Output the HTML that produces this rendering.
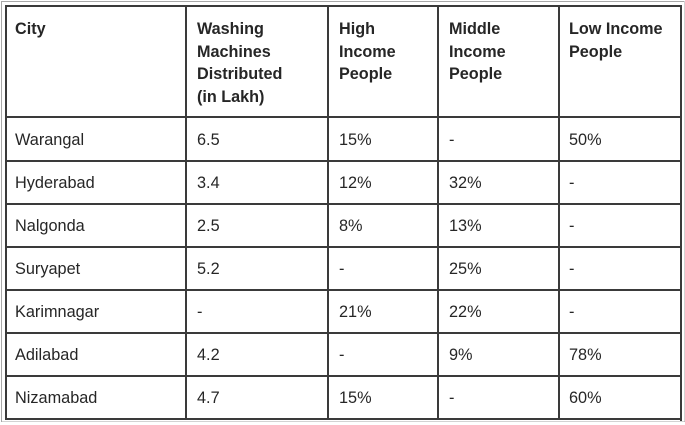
<!DOCTYPE html>
<html>
<head>
<meta charset="utf-8">
<style>
  html, body { margin:0; padding:0; background:#fff; }
  #c { position:relative; width:685px; height:425px; overflow:hidden; background:#fff;
       font-family:"Liberation Sans", Arial, sans-serif; color:#262626; }
  .l { position:absolute; background:#3a3a3a; }
  .lt { position:absolute; background:#a8a8a8; }
  .t { position:absolute; font-size:16.3px; line-height:22.7px; white-space:nowrap; }
  .b { font-weight:bold; font-size:16.2px; }
</style>
</head>
<body>
<div id="c">
  <!-- outer light frame -->
  <div class="lt" style="left:1px;top:1px;width:683px;height:1px;"></div>
  <div class="lt" style="left:1px;top:1px;width:1px;height:421px;"></div>
  <div class="lt" style="left:684px;top:1px;width:1px;height:421px;opacity:.5"></div>
  <div class="lt" style="left:1px;top:421px;width:684px;height:1px;opacity:.5"></div>

  <!-- inner dark frame -->
  <div class="l" style="left:5px;top:5px;width:677px;height:2px;"></div>
  <div class="l" style="left:5px;top:5px;width:2px;height:415px;"></div>
  <div class="l" style="left:680px;top:5px;width:2px;height:416px;"></div>
  <div class="l" style="left:5px;top:418px;width:677px;height:2px;"></div>

  <!-- vertical grid -->
  <div class="l" style="left:185px;top:5px;width:2px;height:415px;"></div>
  <div class="l" style="left:327px;top:5px;width:2px;height:415px;"></div>
  <div class="l" style="left:437px;top:5px;width:2px;height:415px;"></div>
  <div class="l" style="left:558px;top:5px;width:2px;height:415px;"></div>

  <!-- horizontal grid -->
  <div class="l" style="left:5px;top:116px;width:677px;height:2px;"></div>
  <div class="l" style="left:5px;top:160px;width:677px;height:2px;"></div>
  <div class="l" style="left:5px;top:203px;width:677px;height:2px;"></div>
  <div class="l" style="left:5px;top:246px;width:677px;height:2px;"></div>
  <div class="l" style="left:5px;top:289px;width:677px;height:2px;"></div>
  <div class="l" style="left:5px;top:332px;width:677px;height:2px;"></div>
  <div class="l" style="left:5px;top:375px;width:677px;height:2px;"></div>

  <!-- header -->
  <div class="t b" style="left:15px;top:18px;">City</div>
  <div class="t b" style="left:197px;top:18px;">Washing<br>Machines<br>Distributed<br>(in Lakh)</div>
  <div class="t b" style="left:339px;top:18px;">High<br>Income<br>People</div>
  <div class="t b" style="left:449px;top:18px;">Middle<br>Income<br>People</div>
  <div class="t b" style="left:569px;top:18px;">Low Income<br>People</div>

  <!-- rows -->
  <div class="t" style="left:15px;top:129px;">Warangal</div>
  <div class="t" style="left:197px;top:129px;">6.5</div>
  <div class="t" style="left:339px;top:129px;">15%</div>
  <div class="t" style="left:449px;top:129px;">-</div>
  <div class="t" style="left:569px;top:129px;">50%</div>

  <div class="t" style="left:15px;top:172px;">Hyderabad</div>
  <div class="t" style="left:197px;top:172px;">3.4</div>
  <div class="t" style="left:339px;top:172px;">12%</div>
  <div class="t" style="left:449px;top:172px;">32%</div>
  <div class="t" style="left:569px;top:172px;">-</div>

  <div class="t" style="left:15px;top:215px;">Nalgonda</div>
  <div class="t" style="left:197px;top:215px;">2.5</div>
  <div class="t" style="left:339px;top:215px;">8%</div>
  <div class="t" style="left:449px;top:215px;">13%</div>
  <div class="t" style="left:569px;top:215px;">-</div>

  <div class="t" style="left:15px;top:258px;">Suryapet</div>
  <div class="t" style="left:197px;top:258px;">5.2</div>
  <div class="t" style="left:339px;top:258px;">-</div>
  <div class="t" style="left:449px;top:258px;">25%</div>
  <div class="t" style="left:569px;top:258px;">-</div>

  <div class="t" style="left:15px;top:301px;">Karimnagar</div>
  <div class="t" style="left:197px;top:301px;">-</div>
  <div class="t" style="left:339px;top:301px;">21%</div>
  <div class="t" style="left:449px;top:301px;">22%</div>
  <div class="t" style="left:569px;top:301px;">-</div>

  <div class="t" style="left:15px;top:344px;">Adilabad</div>
  <div class="t" style="left:197px;top:344px;">4.2</div>
  <div class="t" style="left:339px;top:344px;">-</div>
  <div class="t" style="left:449px;top:344px;">9%</div>
  <div class="t" style="left:569px;top:344px;">78%</div>

  <div class="t" style="left:15px;top:387px;">Nizamabad</div>
  <div class="t" style="left:197px;top:387px;">4.7</div>
  <div class="t" style="left:339px;top:387px;">15%</div>
  <div class="t" style="left:449px;top:387px;">-</div>
  <div class="t" style="left:569px;top:387px;">60%</div>
</div>
</body>
</html>
